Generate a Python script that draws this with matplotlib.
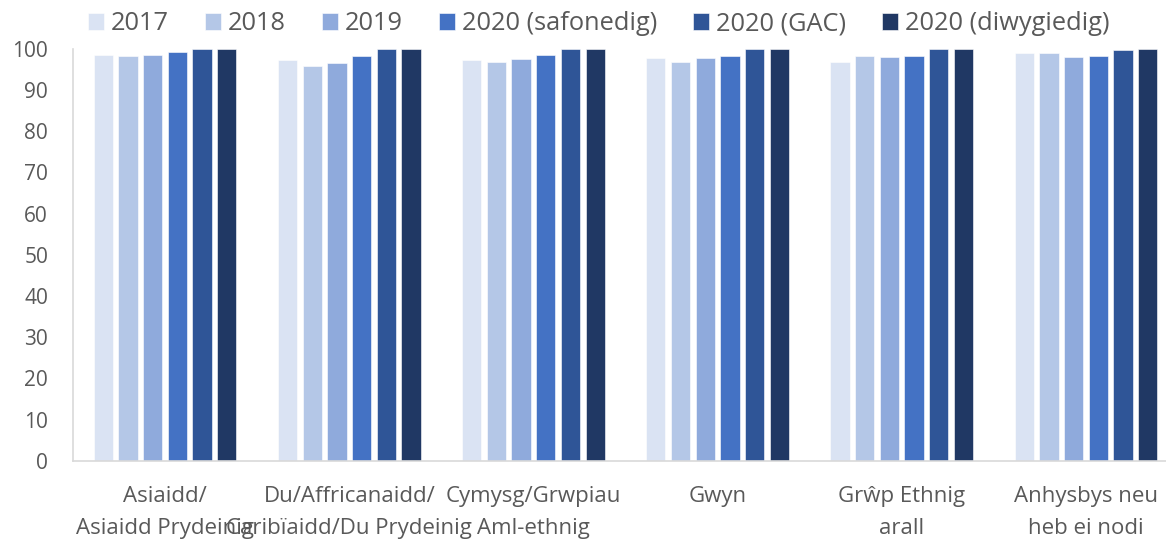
import matplotlib
matplotlib.use("Agg")
import matplotlib.pyplot as plt
import numpy as np

plt.rcParams['font.family'] = ['Open Sans', 'DejaVu Sans']

categories = [
    "Asiaidd/\nAsiaidd Prydeinig",
    "Du/Affricanaidd/\nCaribïaidd/Du Prydeinig",
    "Cymysg/Grwpiau\nAml-ethnig",
    "Gwyn",
    "Grŵp Ethnig\narall",
    "Anhysbys neu\nheb ei nodi",
]
series_names = ["2017", "2018", "2019", "2020 (safonedig)", "2020 (GAC)", "2020 (diwygiedig)"]
v2017 = [98.5, 97.2, 97.2, 97.6, 96.8, 99.0]
v2018 = [98.3, 95.8, 96.7, 96.8, 98.1, 98.9]
v2019 = [98.5, 96.5, 97.5, 97.6, 97.9, 97.9]
v2020_saf = [99.1, 98.1, 98.5, 98.3, 98.1, 98.1]
v2020_gac = [99.9, 99.8, 99.8, 99.8, 100.0, 99.7]
v2020_diw = [100.0, 99.9, 99.9, 99.8, 100.0, 100.0]
series = [v2017, v2018, v2019, v2020_saf, v2020_gac, v2020_diw]
colors = ["#DAE3F3", "#B4C7E7", "#8FAADC", "#4472C4", "#2F5597", "#203864"]
yticks = [0, 10, 20, 30, 40, 50, 60, 70, 80, 90, 100]

W, H = 1166, 539
fig = plt.figure(figsize=(W / 100, H / 100), dpi=100)
ax_left, ax_right, ax_top, ax_bottom = 73, 1178, 48.5, 461
ax = fig.add_axes([ax_left / W, 1 - ax_bottom / H, (ax_right - ax_left) / W, (ax_bottom - ax_top) / H])

n = len(series)
x = np.arange(len(categories))
step = 24.7 / 184.2
bw = 19.3 / 184.2
for i, (vals, c, name) in enumerate(zip(series, colors, series_names)):
    ax.bar(x + (i - (n - 1) / 2) * step, vals, width=bw, color=c, label=name,
           edgecolor="white", linewidth=0.4)

ax.set_xlim(-0.5, len(categories) - 0.5)
ax.set_ylim(0, 100)
ax.set_yticks(yticks)
ax.set_yticklabels([str(t) for t in yticks])
ax.set_xticks(x)
ax.set_xticklabels(categories, linespacing=1.68)

for s in ["top", "right"]:
    ax.spines[s].set_visible(False)
for s in ["left", "bottom"]:
    ax.spines[s].set_color("#D9D9D9")
    ax.spines[s].set_linewidth(1.2)

ax.tick_params(axis="y", length=0, pad=18, labelsize=15, labelcolor="#595959")
ax.tick_params(axis="x", length=0, pad=18, labelsize=16, labelcolor="#595959")

leg = fig.legend(loc="center left", bbox_to_anchor=(88 / W, 1 - 24 / H), ncol=6,
                 frameon=False, fontsize=18.3, handlelength=0.62, handleheight=0.62,
                 handletextpad=0.28, columnspacing=1.42, borderpad=0, borderaxespad=0)
for t in leg.get_texts():
    t.set_color("#595959")

fig.savefig("out.png", dpi=100)
